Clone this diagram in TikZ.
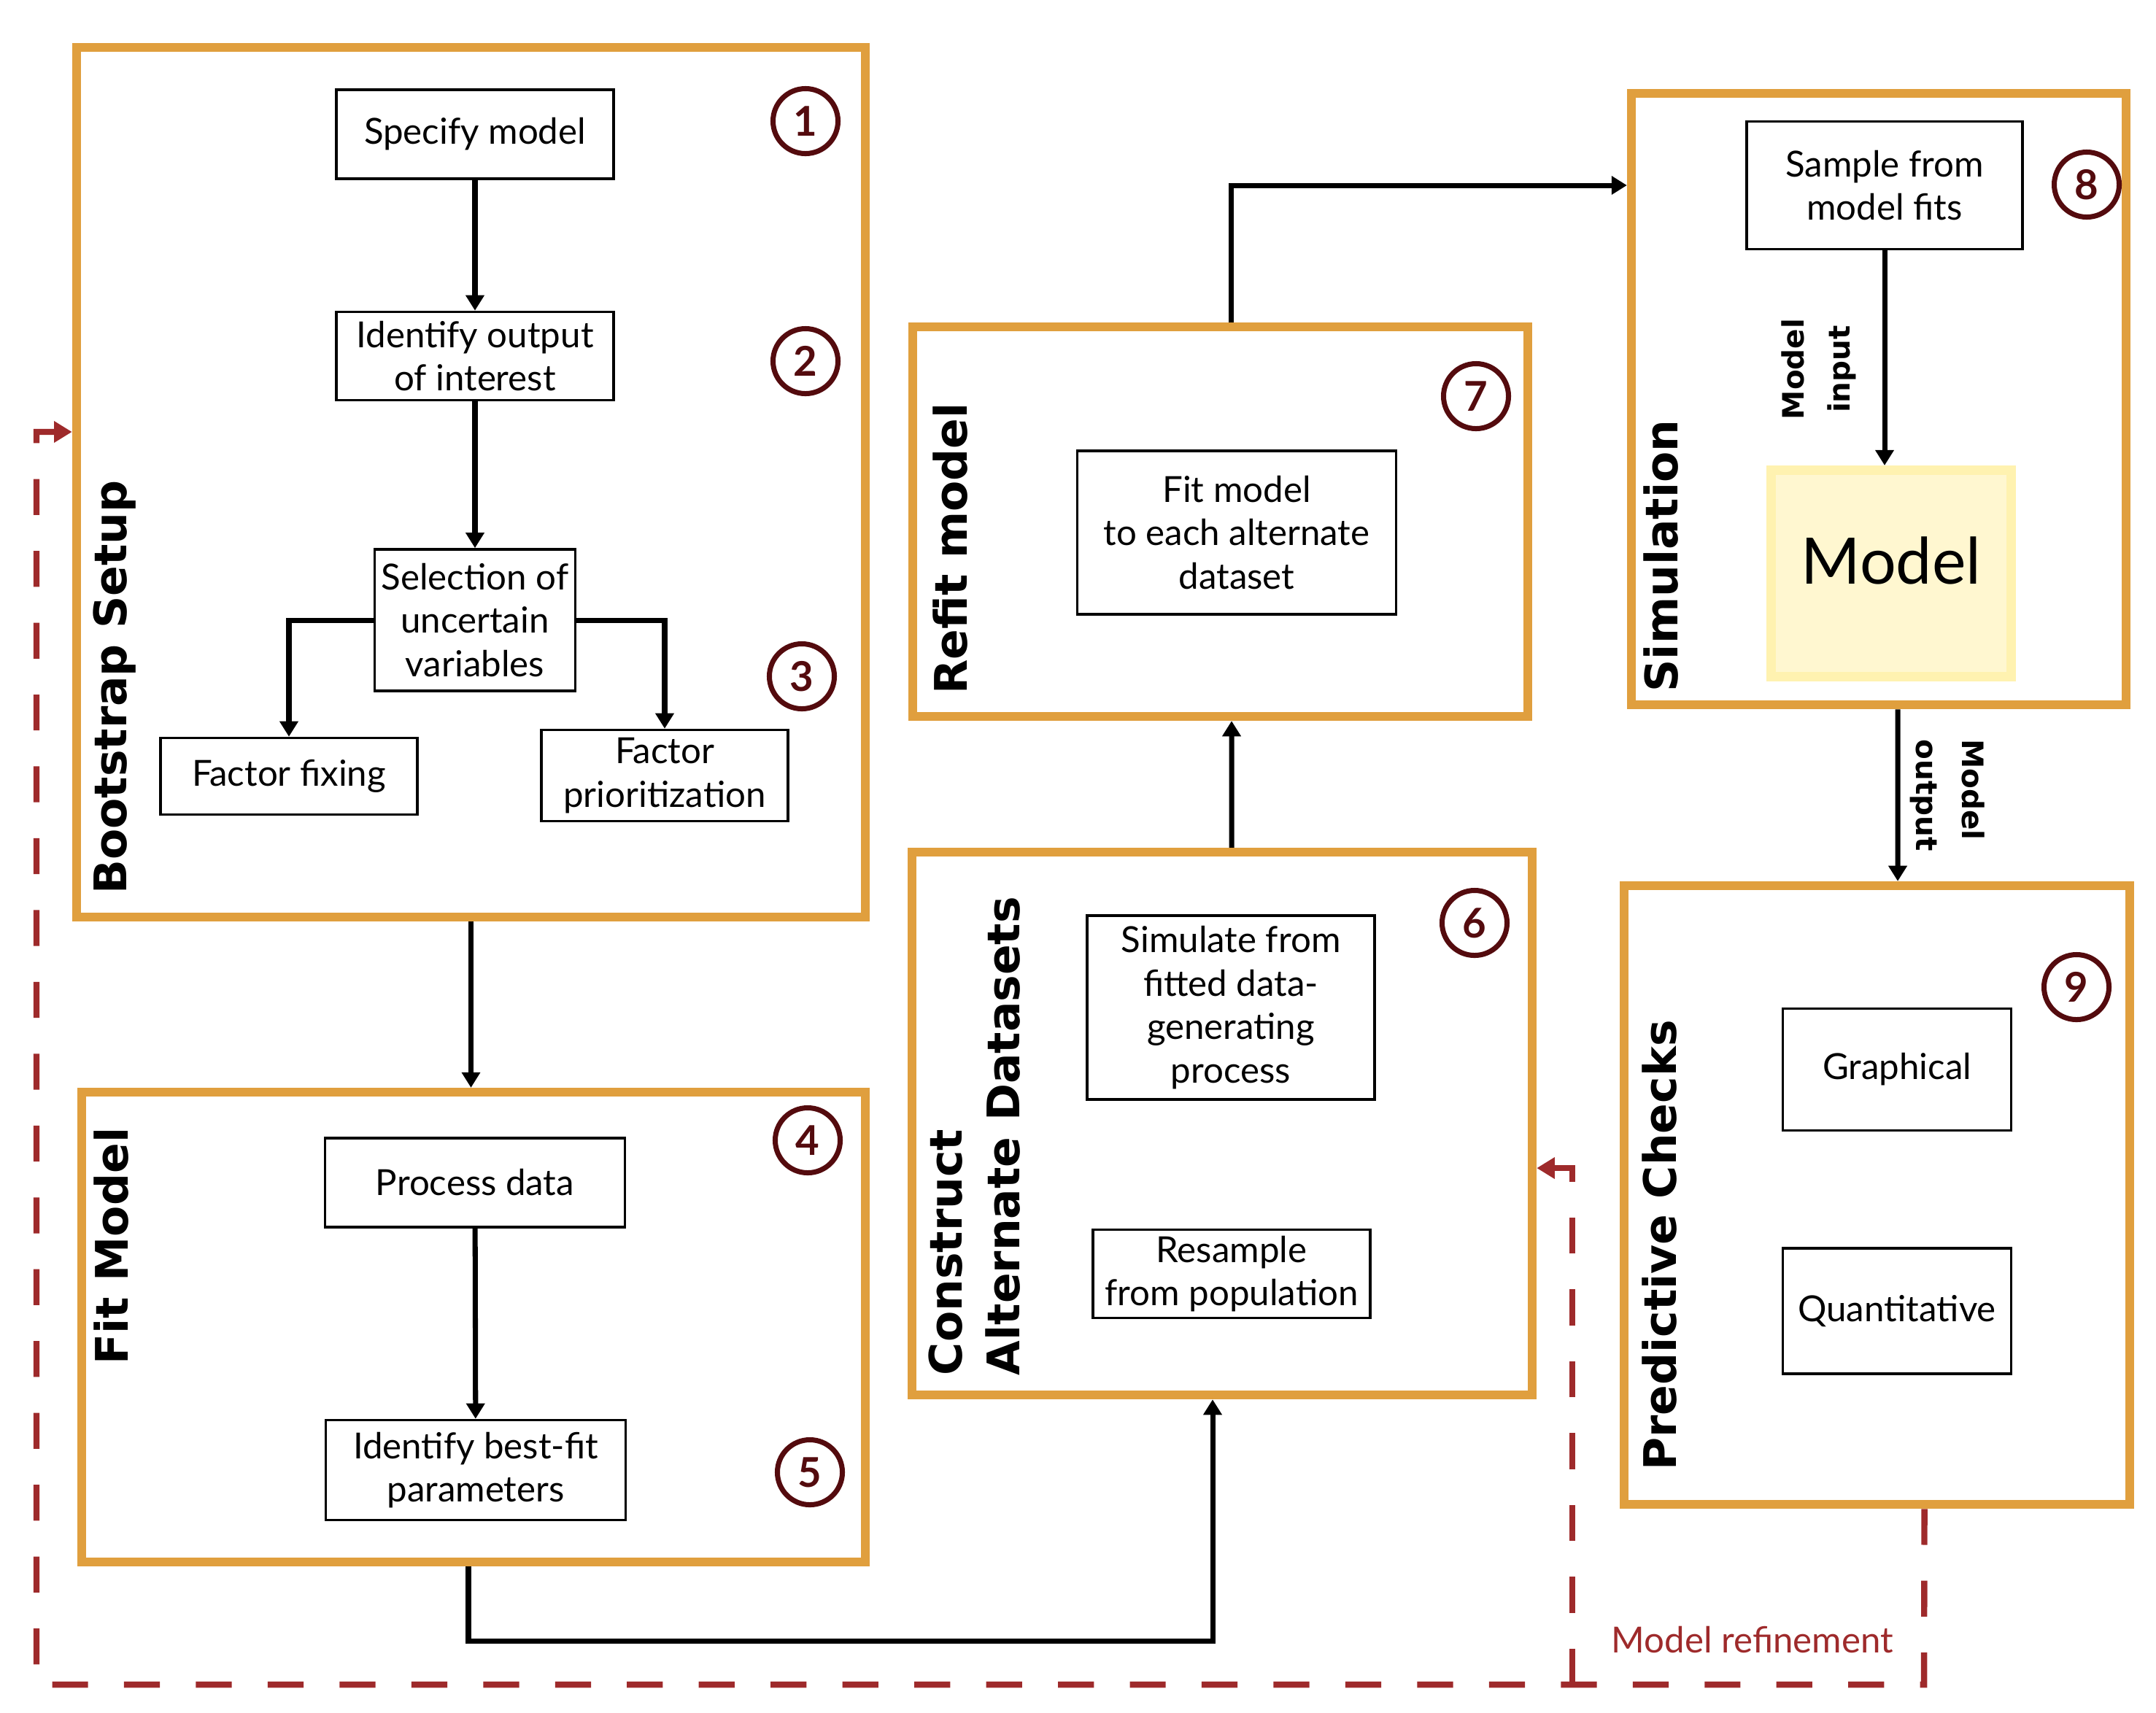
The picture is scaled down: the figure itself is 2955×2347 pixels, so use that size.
\documentclass[tikz,border=0pt]{standalone}
\usepackage{fontspec}
\setmainfont{Lato}
\newfontfamily\headfont{DejaVu Sans}
\usetikzlibrary{arrows.meta}

\definecolor{stageorange}{RGB}{224,159,62}
\definecolor{numred}{RGB}{84,11,14}
\definecolor{refred}{RGB}{158,42,43}
\definecolor{modelfill}{RGB}{255,247,208}
\definecolor{modelline}{RGB}{255,242,176}

\tikzset{
	stage/.style={draw=stageorange, line width=3.4pt, inner sep=0pt},
	task/.style={draw=black, line width=1pt, align=center, inner sep=0pt, font=\fontsize{14}{17}\selectfont},
	num/.style={shape=circle, draw=numred, line width=2pt, minimum size=0.89cm, inner sep=0pt, text=numred, font=\fontsize{16}{16}\selectfont\bfseries},
	title/.style={rotate=90, align=left, font=\headfont\bfseries\fontsize{17.5}{22.5}\selectfont},
	flowlabel/.style={font=\headfont\bfseries\fontsize{11.5}{18}\selectfont},
	modelbox/.style={fill=modelfill, draw=modelline, line width=3.7pt, minimum width=3.29cm, minimum height=2.83cm, font=\fontsize{25}{30}\selectfont},
	arr/.style={-{Triangle[width=7pt,length=6pt]}, line width=2pt},
	refine/.style={-{Triangle[width=8pt,length=7pt]}, draw=refred, line width=2.4pt, dash pattern=on 14pt off 14pt},
}

\begin{document}
\begin{tikzpicture}[x=0.01cm, y=-0.01cm]
	\useasboundingbox (0,0) rectangle (2955,2347);
	
	\node[stage, minimum width=10.81cm, minimum height=11.92cm] (setup) at (645.5,661) {};
	\node[stage, minimum width=10.74cm, minimum height=6.44cm] (fitbox) at (649,1819) {};
	\node[stage, minimum width=8.50cm, minimum height=7.44cm] (altdata) at (1675,1540) {};
	\node[stage, minimum width=8.43cm, minimum height=5.34cm] (refit) at (1672.5,715) {};
	\node[stage, minimum width=6.78cm, minimum height=8.38cm] (sim) at (2575,547) {};
	\node[stage, minimum width=6.93cm, minimum height=8.48cm] (checks) at (2572.5,1638) {};
	
	\node[title] (setuptitle) at (157,942) {Bootstrap Setup};
	\node[title] (fittitle) at (153,1708) {Fit Model};
	\node[title] (alttitle) at (1336,1557) {Construct\\Alternate Datasets};
	\node[title] (refittitle) at (1303,752) {Refit model};
	\node[title] (simtitle) at (2277,762) {Simulation};
	\node[title] (checkstitle) at (2275,1707) {Predictive Checks};
	
	\node[task, minimum width=3.80cm, minimum height=1.22cm] (spec) at (651,184) {Specify model};
	\node[task, minimum width=3.80cm, minimum height=1.21cm] (outp) at (651,488) {Identify output\\of interest};
	\node[task, minimum width=2.75cm, minimum height=1.94cm] (sel) at (651,850) {Selection of\\uncertain\\variables};
	\node[task, minimum width=3.52cm, minimum height=1.05cm] (fix) at (396,1064) {Factor fixing};
	\node[task, minimum width=3.38cm, minimum height=1.25cm] (prio) at (911,1063) {Factor\\prioritization};
	\node[task, minimum width=4.11cm, minimum height=1.22cm] (proc) at (651,1621) {Process data};
	\node[task, minimum width=4.11cm, minimum height=1.37cm] (best) at (652,2015) {Identify best-fit\\parameters};
	\node[task, minimum width=3.94cm, minimum height=2.52cm] (simul) at (1687,1381) {Simulate from\\fitted data-\\generating\\process};
	\node[task, minimum width=3.80cm, minimum height=1.21cm] (resamp) at (1688,1746) {Resample\\from population};
	\node[task, minimum width=4.37cm, minimum height=2.24cm] (refitall) at (1695,730) {Fit model\\to each alternate\\dataset};
	\node[task, minimum width=3.78cm, minimum height=1.75cm] (samp) at (2583,254) {Sample from\\model fits};
	\node[task, minimum width=3.13cm, minimum height=1.67cm] (graph) at (2600,1466) {Graphical};
	\node[task, minimum width=3.13cm, minimum height=1.72cm] (quant) at (2600,1797) {Quantitative};
	\node[modelbox, text depth=0.35cm] (model) at (2592,786) {Model};
	
	\node[num] (n1) at (1104,166) {1};
	\node[num] (n2) at (1104,495) {2};
	\node[num] (n3) at (1099,927) {3};
	\node[num] (n4) at (1107,1563) {4};
	\node[num] (n5) at (1110,2018) {5};
	\node[num] (n6) at (2021,1265) {6};
	\node[num] (n7) at (2023,543) {7};
	\node[num] (n8) at (2860,253) {8};
	\node[num] (n9) at (2846,1353) {9};
	
	\node[flowlabel, rotate=90, align=center] (inlabel) at (2493,506) {Model\\input};
	\node[flowlabel, rotate=-90, align=left] (outlabel) at (2669,1090) {Model\\output};
	\node[text=refred, font=\fontsize{14}{17}\selectfont] (refinelabel) at (2402,2248) {Model refinement};
	
	\draw[arr] (spec) -- (outp);
	\draw[arr] (outp) -- (sel);
	\draw[arr] (sel.west) -| (fix.north);
	\draw[arr] (sel.east) -| (prio.north);
	\draw[arr] (setup.south) -- (setup.south |- fitbox.north);
	\draw[arr] (proc) -- (best);
	\draw[arr] ([xshift=-0.07cm]fitbox.south) -- ++(0,102) -| ([xshift=-0.13cm]altdata.south);
	\draw[arr] ([xshift=0.13cm]altdata.north) -- ([xshift=0.155cm]refit.south);
	\draw[arr] ([xshift=0.15cm]refit.north) |- (samp -| sim.west);
	\draw[arr] (samp.south) -- (samp.south |- model.north);
	\draw[arr] ([xshift=0.26cm]sim.south) -- ([xshift=0.285cm]checks.north);
	
	\coordinate (rbr) at (2637,2309);
	\coordinate (rbl) at (50,2309);
	\coordinate (rmid) at (2155,2309);
	\draw[refine] ([xshift=0.65cm]checks.south) -- (rbr) -- (rbl) |- ([yshift=0.69cm]setup.west);
	\draw[refine] (rmid) |- ([yshift=-0.61cm]altdata.east);
	
\end{tikzpicture}
\end{document}
